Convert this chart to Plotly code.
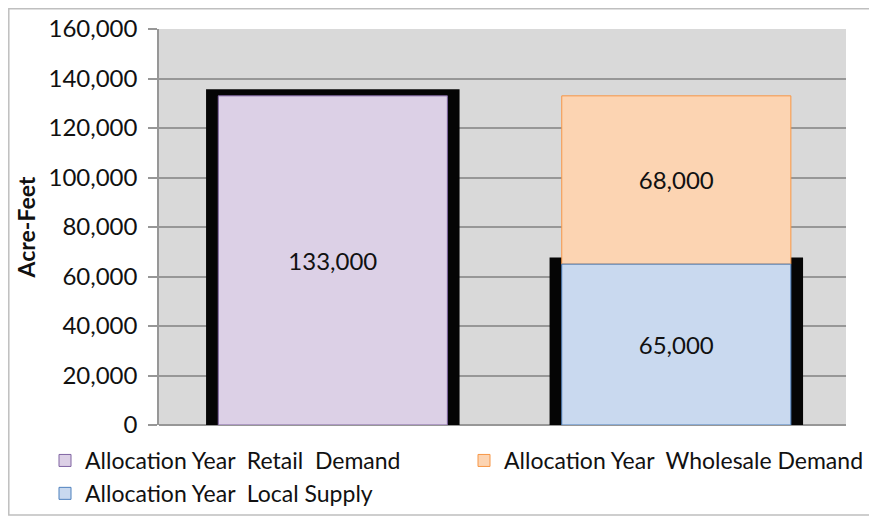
import plotly.graph_objects as go

# ---- data ----
categories = [0, 1]
retail_demand = [133000, None]
local_supply = [None, 65000]
wholesale_demand = [None, 68000]
frame_values = [133000, 65000]   # values that get the heavy black frame
y_ticks = [0, 20000, 40000, 60000, 80000, 100000, 120000, 140000, 160000]
y_title = "Acre-Feet"
names = ["Allocation Year  Retail  Demand",
         "Allocation Year  Wholesale Demand",
         "Allocation Year  Local Supply"]

FONT = "Lato, Open Sans, sans-serif"
pad_top, pad_bottom = 2700, 1300
bar_w, frame_w = 0.667, 0.738
# page body adds an 8px offset; figure is sized to fill the rest of the window
W, H = 869, 509
L, R, T, B = 151, 31, 21, 92
pw, ph = W - L - R, H - T - B
bottom_px = T + ph

fig = go.Figure()

# black frame behind the retail and local-supply bars
fig.add_trace(go.Bar(
    x=categories, y=[v + pad_top + pad_bottom for v in frame_values],
    base=[-pad_bottom] * len(frame_values), width=frame_w,
    marker=dict(color="#050505", line=dict(width=0)),
    showlegend=False, hoverinfo="skip"))

label_font = dict(size=24, color="#111111", family=FONT)

fig.add_trace(go.Bar(
    x=categories, y=retail_demand, name=names[0], width=bar_w,
    marker=dict(color="#dcd0e6", line=dict(color="#8064a2", width=1)),
    text=[f"{v:,}" if v else "" for v in retail_demand],
    textposition="inside", insidetextanchor="middle", textangle=0,
    textfont=label_font))

fig.add_trace(go.Bar(
    x=categories, y=wholesale_demand, name=names[1], width=bar_w,
    base=[0 if v is None else v for v in local_supply],
    marker=dict(color="#fcd4b2", line=dict(color="#f79646", width=1)),
    text=[f"{v:,}" if v else "" for v in wholesale_demand],
    textposition="inside", insidetextanchor="middle", textangle=0,
    textfont=label_font))

fig.add_trace(go.Bar(
    x=categories, y=local_supply, name=names[2], width=bar_w,
    marker=dict(color="#c9d9ef", line=dict(color="#4f81bd", width=1)),
    text=[f"{v:,}" if v else "" for v in local_supply],
    textposition="inside", insidetextanchor="middle", textangle=0,
    textfont=label_font))

fig.update_layout(
    width=W, height=H,
    barmode="overlay",
    paper_bgcolor="white", plot_bgcolor="#d9d9d9",
    margin=dict(l=L, r=R, t=T, b=B, autoexpand=False),
    font=dict(family=FONT, size=18, color="#111111"),
    legend=dict(orientation="h", xref="paper", yref="paper",
                x=(37 - L) / pw, y=-(431 - bottom_px) / ph,
                xanchor="left", yanchor="top",
                entrywidth=374, entrywidthmode="pixels",
                font=dict(size=23, family=FONT), traceorder="normal",
                itemwidth=30, tracegroupgap=0, bgcolor="rgba(0,0,0,0)"),
    shapes=[dict(type="rect", xref="paper", yref="paper",
                 x0=(0.8 - L) / pw, x1=(W + 5 - L) / pw,
                 y0=-(507 - bottom_px) / ph, y1=(bottom_px - 0.8) / ph,
                 line=dict(color="#bfbfbf", width=1.5), layer="below")],
)

fig.update_xaxes(range=[-0.506, 1.494], showticklabels=False, showgrid=False,
                 zeroline=False, showline=False, ticks="", automargin=False)
fig.update_yaxes(range=[0, 160000], tickvals=y_ticks, tickformat=",",
                 automargin=False,
                 showgrid=True, gridcolor="#979797", gridwidth=1.5,
                 zeroline=True, zerolinecolor="#979797", zerolinewidth=1.5,
                 showline=True, linecolor="#979797", linewidth=1.5,
                 ticks="outside", ticklen=9, tickcolor="#979797", tickwidth=1.5,
                 ticklabelstandoff=6,
                 tickfont=dict(size=24, family=FONT),
                 title=dict(text=f"<b>{y_title}</b>", standoff=6,
                            font=dict(size=23, family=FONT)))

fig.write_html("out.html")
